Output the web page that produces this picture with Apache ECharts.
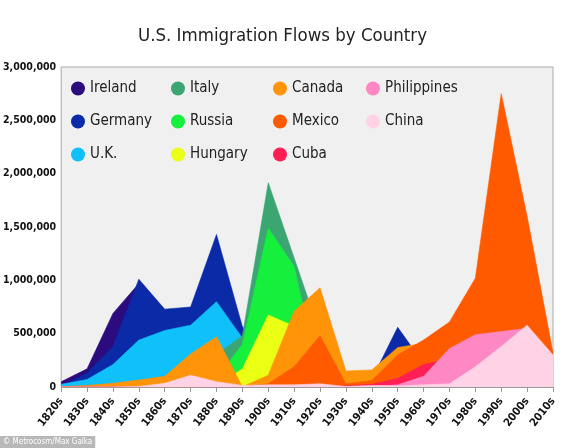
<!DOCTYPE html>
<html>
<head>
    <meta charset="utf-8">
    <title>U.S. Immigration Flows by Country</title>
    <script src="https://cdn.jsdelivr.net/npm/echarts@6/dist/echarts.min.js"></script>
    <style>
        body { margin: 0; background: #fff; }
        #main { width: 565px; height: 448px; }
    </style>
</head>
<body>
    <div id="main"></div>
    <script type="text/javascript">
        var decades = ['1820s', '1830s', '1840s', '1850s', '1860s', '1870s', '1880s', '1890s', '1900s', '1910s',
                       '1920s', '1930s', '1940s', '1950s', '1960s', '1970s', '1980s', '1990s', '2000s', '2010s'];

        // values (people per decade), series overlap, they are not stacked
        var ireland = [50000, 170000, 690000, 970000, 440000, 440000, 660000, 390000, 340000, 150000,
                       210000, 30000, 20000, 50000, 40000, 10000, 30000, 60000, 20000, 10000];
        var germany = [6000, 130000, 380000, 1010000, 730000, 750000, 1430000, 565000, 330000, 170000,
                       390000, 120000, 70000, 560000, 220000, 70000, 70000, 90000, 120000, 60000];
        var uk = [25000, 70000, 210000, 440000, 530000, 580000, 800000, 460000, 470000, 340000,
                  340000, 30000, 140000, 200000, 220000, 140000, 160000, 140000, 170000, 100000];
        var italy = [0, 0, 2000, 10000, 10000, 50000, 300000, 480000, 1915000, 1210000,
                     500000, 70000, 60000, 190000, 210000, 130000, 30000, 70000, 20000, 20000];
        var russia = [0, 0, 0, 0, 2000, 40000, 80000, 400000, 1490000, 1130000,
                      60000, 5000, 1000, 1000, 2000, 30000, 30000, 430000, 170000, 100000];
        var hungary = [0, 0, 0, 0, 0, 0, 10000, 170000, 675000, 570000,
                       200000, 5000, 4000, 40000, 5000, 5000, 6000, 10000, 10000, 5000];
        var canada = [2000, 14000, 35000, 65000, 100000, 310000, 470000, 3000, 110000, 710000,
                      930000, 150000, 160000, 370000, 410000, 170000, 150000, 190000, 240000, 100000];
        var mexico = [4000, 7000, 3000, 3000, 2000, 5000, 2000, 1000, 30000, 190000,
                      480000, 30000, 60000, 300000, 440000, 610000, 1020000, 2750000, 1600000, 320000];
        var cuba = [0, 0, 0, 0, 0, 0, 0, 0, 10000, 10000,
                    15000, 10000, 25000, 80000, 210000, 260000, 140000, 160000, 270000, 100000];
        var philippines = [0, 0, 0, 0, 0, 0, 0, 0, 0, 0,
                           0, 0, 4000, 20000, 100000, 360000, 490000, 520000, 550000, 200000];
        var china = [0, 0, 0, 5000, 35000, 110000, 50000, 15000, 20000, 20000,
                     30000, 5000, 15000, 10000, 20000, 30000, 190000, 380000, 580000, 300000];

        var countries = ['Ireland', 'Germany', 'U.K.', 'Italy', 'Russia', 'Hungary',
                         'Canada', 'Mexico', 'Cuba', 'Philippines', 'China'];
        var values = [ireland, germany, uk, italy, russia, hungary, canada, mexico, cuba, philippines, china];
        var colors = ['#2c0b7e', '#0a2aa8', '#10c0f8', '#3ca673', '#14f03c', '#eaff14',
                      '#ff9408', '#ff5a00', '#ff1f55', '#ff88c4', '#ffd2e6'];

        var yTicks = [0, 500000, 1000000, 1500000, 2000000, 2500000, 3000000];

        var narrow = "'Liberation Sans Narrow', 'DejaVu Sans Condensed', sans-serif";

        var series = [];
        for (var i = 0; i < countries.length; i++) {
            series.push({
                name: countries[i],
                type: 'line',
                z: 2 + i,          // later countries sit on top, as in the original
                data: values[i],
                symbol: 'none',
                smooth: false,
                lineStyle: { width: 0.6, color: colors[i] },
                areaStyle: { color: colors[i], opacity: 1 }
            });
        }

        function legendCol(names, left) {
            return {
                data: names,
                orient: 'vertical',
                left: left,
                top: 76,
                icon: 'circle',
                itemWidth: 14,
                itemHeight: 14,
                itemGap: 18,
                textStyle: { fontFamily: narrow, fontSize: 15, color: '#222', lineHeight: 15 }
            };
        }

        var myChart = echarts.init(document.getElementById('main'));
        var option = {
            animation: false,
            color: colors,
            title: [{
                text: 'U.S. Immigration Flows by Country',
                left: 'center',
                top: 22,
                textStyle: { fontFamily: narrow, fontSize: 18.5, fontWeight: 'normal', color: '#222' }
            }, {
                text: '© Metrocosm/Max Galka',
                left: 0,
                bottom: 0,
                padding: [2, 3, 2, 3],
                backgroundColor: '#b8b8b8',
                textStyle: { fontFamily: narrow, fontSize: 8, fontWeight: 'normal', color: '#fff' }
            }],
            legend: [
                legendCol(['Ireland', 'Germany', 'U.K.'], 66),
                legendCol(['Italy', 'Russia', 'Hungary'], 166),
                legendCol(['Canada', 'Mexico', 'Cuba'], 268),
                legendCol(['Philippines', 'China'], 361)
            ],
            grid: {
                left: 59,
                right: 12,
                top: 67,
                bottom: 61,
                show: true,
                backgroundColor: '#f0f0f0',
                borderColor: '#aaaaaa',
                borderWidth: 1
            },
            xAxis: {
                type: 'category',
                data: decades,
                boundaryGap: false,
                axisLine: { lineStyle: { color: '#999' } },
                axisTick: { show: true, length: 5, lineStyle: { color: '#999' } },
                axisLabel: {
                    interval: 0,
                    rotate: 52,
                    margin: 12,
                    fontFamily: narrow,
                    fontWeight: 'bold',
                    fontSize: 11,
                    color: '#111'
                }
            },
            yAxis: {
                type: 'value',
                min: yTicks[0],
                max: yTicks[yTicks.length - 1],
                interval: yTicks[1] - yTicks[0],
                axisLine: { show: false },
                axisTick: { show: false },
                splitLine: { show: false },
                axisLabel: {
                    margin: 5,
                    fontFamily: narrow,
                    fontWeight: 'bold',
                    fontSize: 10.5,
                    color: '#111',
                    formatter: function (v) { return v.toLocaleString('en-US'); }
                }
            },
            series: series
        };
        myChart.setOption(option);
    </script>
</body>
</html>
